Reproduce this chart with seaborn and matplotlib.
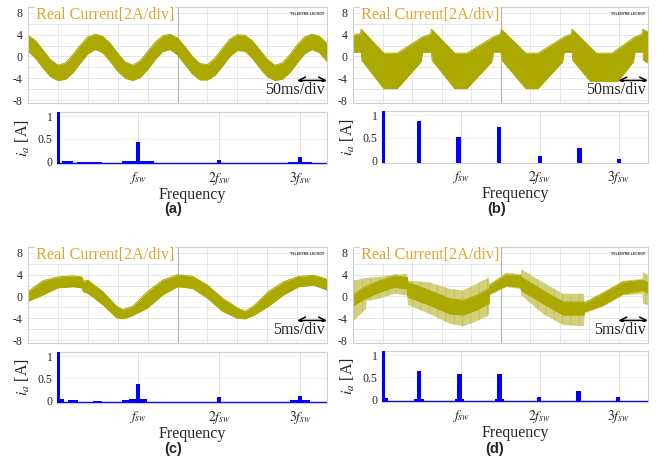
import numpy as np
import matplotlib
matplotlib.use("Agg")
import matplotlib.pyplot as plt
import seaborn as sns

sns.set_theme(style="white")
plt.rcParams["font.family"] = ["Liberation Serif", "DejaVu Serif"]
plt.rcParams["mathtext.fontset"] = "stix"
plt.rcParams["hatch.linewidth"] = 0.5

WAVE = "#ABA800"
WAVE_LIGHT = "#D3D07C"
GOLD = "#DDA62A"
GRID = "#E2E2E2"
SPINE = "#CFCFCF"
BLUE = "#0000FF"

# ---------------- oscilloscope traces (time in divisions, current in A) -------------
a_t = np.arange(0, 10.01, 0.25)
a_hi = [3.9, 2.9, 1.2, -0.6, -1.6, -1.2, 0.3, 2.1, 3.6, 4.1, 3.7, 2.4, 0.6, -1.0,
        -1.6, -0.8, 0.9, 2.6, 3.8, 4.1, 3.4, 1.8, 0.0, -1.3, -1.5, -0.3, 1.5, 3.2,
        4.0, 3.9, 2.9, 1.2, -0.5, -1.6, -1.2, 0.3, 2.1, 3.6, 4.1, 3.7, 2.4]
a_lo = [1.0, -0.3, -2.1, -3.7, -4.4, -4.2, -3.0, -1.2, 0.5, 1.3, 0.7, -0.9, -2.7,
        -4.0, -4.4, -3.9, -2.4, -0.6, 0.9, 1.3, 0.3, -1.5, -3.2, -4.3, -4.3, -3.5,
        -1.8, 0.0, 1.1, 1.0, -0.3, -2.1, -3.7, -4.4, -4.2, -3.0, -1.2, 0.5, 1.3,
        0.7, -0.9]

b_t = [0.0, 0.25, 0.28, 0.30, 1.04, 1.50, 2.30, 2.36, 2.63,
       2.66, 2.68, 3.45, 3.86, 4.70, 4.76, 5.00,
       5.03, 5.05, 5.86, 6.27, 7.10, 7.16, 7.40,
       7.43, 7.45, 8.25, 8.78, 9.50, 9.56, 9.80,
       9.83, 9.85, 10.0]
b_hi = [3.9, 4.2, 5.0, 4.9, 0.6, 0.6, 3.4, 3.6, 4.1,
        5.0, 4.9, 0.6, 0.6, 3.4, 3.6, 4.1,
        5.0, 4.9, 0.6, 0.6, 3.4, 3.6, 4.1,
        5.0, 4.9, 0.6, 0.6, 3.4, 3.6, 4.1,
        5.0, 4.9, 4.5]
b_lo = [0.8, 0.8, 0.8, -0.7, -5.9, -5.9, -1.0, 0.8, 0.8,
        0.8, -0.7, -5.9, -5.9, -1.0, 0.8, 0.8,
        0.8, -0.7, -5.9, -5.9, -1.0, 0.8, 0.8,
        0.8, -0.7, -5.9, -5.9, -1.0, 0.8, 0.8,
        0.8, -0.7, -1.2]

c_t = [0, 0.5, 1.0, 1.5, 1.8, 1.85, 2.0, 2.5, 2.96, 3.18, 3.5, 4.0, 4.5, 5.0,
       5.5, 6.0, 6.5, 7.0, 7.26, 7.54, 8.04, 8.55, 9.05, 9.55, 10.0]
c_hi = [0.9, 2.9, 3.6, 3.8, 3.6, 2.8, 3.0, 0.9, -1.8, -2.4, -1.8, 0.9, 3.0, 4.0,
        3.7, 2.1, -0.3, -2.1, -2.7, -1.8, 0.9, 2.7, 3.7, 3.9, 3.2]
c_lo = [-0.9, 0.3, 1.6, 1.8, 1.6, 0.9, 0.6, -1.5, -3.9, -4.1, -3.5, -2.1, 0.3, 1.8,
        1.5, -0.3, -2.7, -4.0, -4.1, -3.5, -1.8, 0.3, 1.8, 2.1, 1.2]

d_t = [0, 0.44, 0.46, 0.9, 1.41, 1.84, 1.86, 2.6, 3.28, 3.73, 4.18, 4.61, 4.63,
       5.2, 5.69, 5.71, 6.44, 7.12, 7.83, 7.85, 8.47, 9.15, 9.81, 9.83, 10.0]
d_hi = [0.3, 1.9, 1.9, 2.9, 3.8, 3.5, 2.6, 1.1, -0.4, -0.7, 0.2, 1.4, 2.0,
        4.0, 3.8, 3.5, 1.1, -1.0, -1.0, -1.3, 0.5, 2.6, 3.0, 3.0, 2.6]
d_lo = [-1.7, -0.3, -0.3, 0.8, 1.7, 1.4, -0.1, -1.6, -3.2, -3.4, -2.5, -1.3, 0.5,
        2.0, 1.7, 1.1, -1.3, -3.4, -3.4, -2.8, -1.6, 0.5, 1.1, 1.1, 0.6]
d_out_hi = [2.9, 3.4, 3.4, 3.6, 4.1, 4.1, 2.9, 2.6, 1.4, 1.1, 2.3, 3.5, 2.3,
            4.4, 4.1, 5.0, 2.6, 0.5, 0.5, -1.0, 0.8, 2.9, 3.2, 4.4, 4.0]
d_out_lo = [-4.6, -2.3, -0.8, -0.4, 0.5, 0.2, -1.6, -3.2, -5.0, -5.5, -4.6, -3.4,
            0.2, 1.7, 1.4, 0.2, -3.2, -5.2, -5.5, -3.1, -1.9, 0.2, 0.5, -1.3, -1.6]

# ---------------- harmonic spectra (frequency in units of f_sw, amplitude in A) -------
a_freq = [0.02, 1.0, 2.0, 3.0]
a_amp = [1.2, 0.44, 0.03, 0.10]
a_base_freq = [0.13, 0.40, 1.0, 3.0]
a_base_wid = [0.14, 0.30, 0.40, 0.30]
a_base_amp = [0.0, -0.01, 0.0, -0.01]

b_freq = [0.02, 0.47, 0.97, 1.48, 2.0, 2.5, 3.0]
b_amp = [1.2, 0.88, 0.51, 0.74, 0.10, 0.28, 0.04]

c_freq = [0.02, 1.0, 2.0, 3.0]
c_amp = [1.2, 0.38, 0.07, 0.09]
c_base_freq = [0.05, 0.2, 0.5, 0.87, 1.0, 3.0]
c_base_wid = [0.08, 0.12, 0.10, 0.14, 0.22, 0.25]
c_base_amp = [0.02, 0.0, -0.01, 0.0, 0.03, 0.0]

d_freq = [0.02, 0.47, 0.98, 1.49, 1.99, 2.49, 2.99]
d_amp = [1.2, 0.64, 0.57, 0.57, 0.05, 0.20, 0.05]
d_base_freq = [0.04, 0.47, 0.98, 1.49, 2.49]
d_base_wid = [0.06, 0.12, 0.12, 0.12, 0.07]
d_base_amp = [0.02, 0.01, 0.01, 0.01, 0.0]

freq_ticks = [1, 2, 3]
freq_labels = [r"$f_{sw}$", r"$2f_{sw}$", r"$3f_{sw}$"]
scope_ticks = [8, 4, 0, -4, -8]

W, H = 657, 466
fig = plt.figure(figsize=(W / 100, H / 100), dpi=100)


def rect(x0, y0, x1, y1):
    return [x0 / W, 1 - y1 / H, (x1 - x0) / W, (y1 - y0) / H]


def scope(box, t, hi, lo, time_div, out_hi=None, out_lo=None):
    ax = fig.add_axes(rect(*box))
    ax.set_xlim(0, 10)
    ax.set_ylim(-8.55, 9.1)
    for gx in range(11):
        ax.axvline(gx, color=GRID, lw=0.6, zorder=0)
    for gy in range(-8, 9, 2):
        ax.axhline(gy, color=GRID, lw=0.6, zorder=0)
    ax.axvline(5, color="#B4B4B4", lw=0.8, zorder=0)
    if out_hi is not None:
        ax.fill_between(t, out_lo, out_hi, facecolor=WAVE_LIGHT, lw=0,
                        hatch="||", edgecolor="#BDBA4C", zorder=1)
    ax.fill_between(t, lo, hi, color=WAVE, lw=0, zorder=2)
    sns.lineplot(x=t, y=hi, ax=ax, color=WAVE, lw=0.7, zorder=2)
    sns.lineplot(x=t, y=lo, ax=ax, color=WAVE, lw=0.7, zorder=2)
    ax.set_yticks(scope_ticks)
    ax.set_yticklabels([str(v) for v in scope_ticks], fontsize=8.5)
    ax.set_xticks([])
    ax.tick_params(axis="y", length=0, pad=4)
    for s in ax.spines.values():
        s.set_color(SPINE)
        s.set_linewidth(0.8)
    ax.text(0.27, 7.6, "Real Current[2A/div]", color=GOLD, fontsize=11.6,
            ha="left", va="center", zorder=5,
            bbox=dict(facecolor="white", edgecolor="none", pad=0.5))
    ax.text(9.92, 7.75, "TELEDYNE LECROY", color="#505050", fontsize=2.4,
            ha="right", va="center", fontweight="bold",
            family=["DejaVu Sans"], zorder=5)
    ax.annotate("", xy=(10.0, -4.4), xytext=(9.0, -4.4),
                arrowprops=dict(arrowstyle="<->", color="black", lw=1.1,
                                shrinkA=0, shrinkB=0), zorder=6)
    ax.text(9.93, -6.25, time_div, fontsize=11.5, ha="right", va="center",
            zorder=6, bbox=dict(facecolor="white", edgecolor="none", pad=0.3))
    return ax


def spectrum(box, freq, amp, xmax, base=None, floor=True):
    ax = fig.add_axes(rect(*box))
    y0 = -0.06
    ax.set_xlim(0, xmax)
    ax.set_ylim(y0, 1.1)
    for gx in freq_ticks:
        ax.axvline(gx, color=GRID, lw=0.7, zorder=0)
    for gy in (0.5, 1.0):
        ax.axhline(gy, color="#EEEEEE", lw=0.6, zorder=0)
    if floor:
        sns.lineplot(x=[0, xmax], y=[y0 + 0.012, y0 + 0.012], ax=ax,
                     color=BLUE, lw=1.0, zorder=2)
    if base is not None:
        bf, bw, ba = base
        ax.bar(bf, np.array(ba) - y0, width=bw, bottom=y0, color=BLUE,
               lw=0, zorder=2)
    widths = [0.04] + [0.055] * (len(freq) - 1)
    ax.bar(freq, np.array(amp) - y0, width=widths, bottom=y0, color=BLUE,
           lw=0, zorder=3)
    ax.set_yticks([0, 0.5, 1])
    ax.set_yticklabels(["0", "0.5", "1"], fontsize=8.5)
    ax.set_xticks(freq_ticks)
    ax.set_xticklabels(freq_labels, fontsize=10)
    ax.tick_params(axis="x", length=0, pad=4.5)
    ax.tick_params(axis="y", length=0, pad=3)
    ax.set_xlabel("Frequency", fontsize=11.5, labelpad=-0.5)
    ax.set_ylabel(r"$i_a$ [A]", fontsize=11.5, labelpad=4)
    for s in ax.spines.values():
        s.set_color(SPINE)
        s.set_linewidth(0.8)
    return ax


scope((28, 7, 327, 103), a_t, a_hi, a_lo, "50ms/div")
scope((353, 7, 648, 103), b_t, b_hi, b_lo, "50ms/div")
scope((28, 247, 327, 343), c_t, c_hi, c_lo, "5ms/div")
scope((353, 247, 648, 343), d_t, d_hi, d_lo, "5ms/div", d_out_hi, d_out_lo)

spectrum((57, 112, 327, 164), a_freq, a_amp, 3.33,
         (a_base_freq, a_base_wid, a_base_amp))
spectrum((382, 111, 648, 163), b_freq, b_amp, 3.37, floor=False)
spectrum((57, 352, 327, 403), c_freq, c_amp, 3.33,
         (c_base_freq, c_base_wid, c_base_amp))
spectrum((382, 351, 648, 402), d_freq, d_amp, 3.37,
         (d_base_freq, d_base_wid, d_base_amp))

for label, x, y in [("(a)", 173, 209), ("(b)", 497, 209),
                    ("(c)", 173, 449), ("(d)", 495, 449)]:
    fig.text(x / W, 1 - y / H, label, ha="center", va="center",
             fontsize=10.5, fontweight="bold", family=["Liberation Sans"])

fig.savefig("out.png", dpi=100)
